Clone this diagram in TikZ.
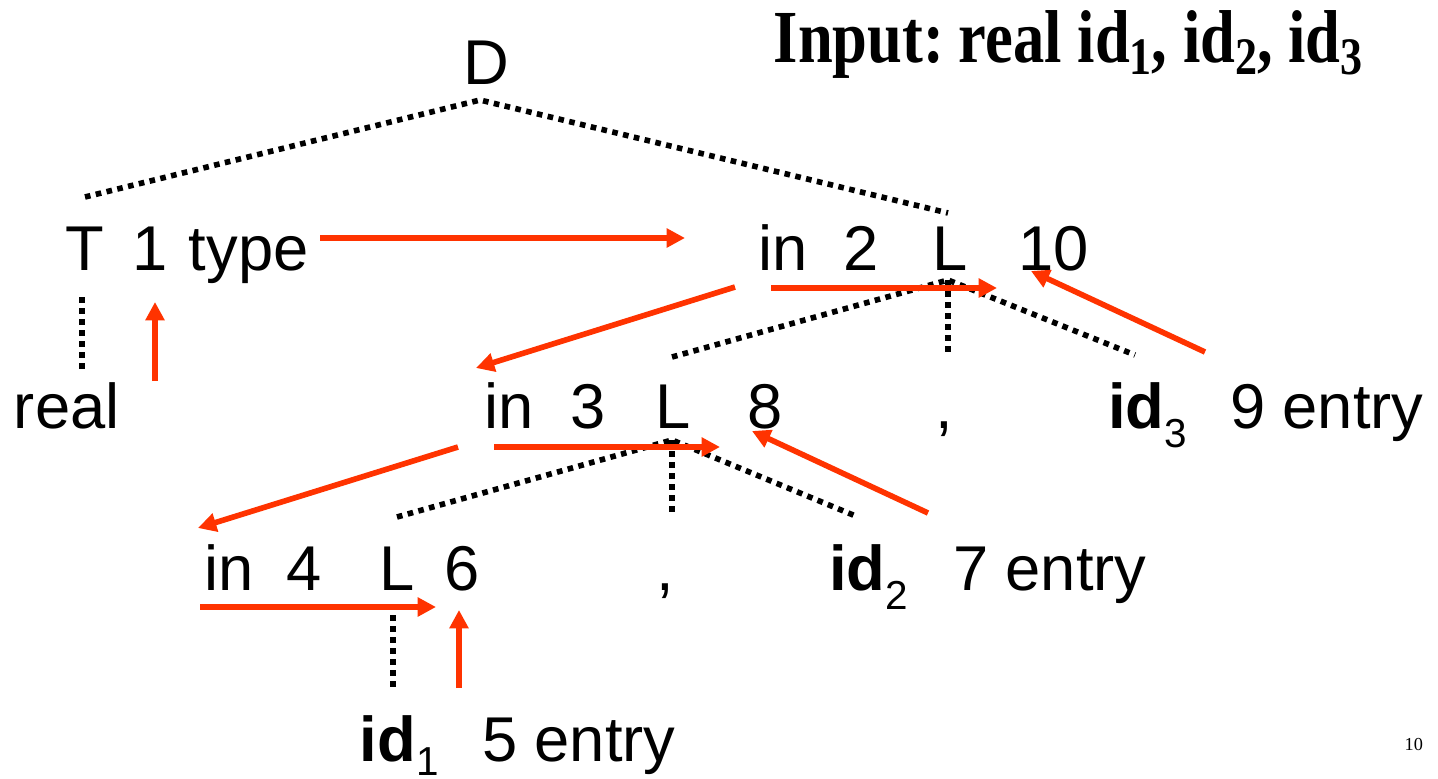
\documentclass[tikz,border=0pt]{standalone}
\usepackage{fontspec}
\setmainfont{Liberation Sans}
\newfontfamily\titlefont{Liberation Serif}
\usepackage{tikz}
\usetikzlibrary{arrows.meta}
\definecolor{flowred}{RGB}{255,51,0}
\newcommand{\sub}[2][-5.5pt]{\raisebox{#1}{\fontsize{11.5}{12}\selectfont #2}}
\newcommand{\tsub}[1]{\raisebox{-3.6pt}{\fontsize{15}{15}\selectfont #1}}

\begin{document}
\begin{tikzpicture}[x=0.01cm,y=-0.01cm,
  lbl/.style={anchor=base west,inner sep=0pt,outer sep=0pt,font=\fontsize{18}{20}\selectfont},
  tree/.style={line width=1.6pt,dash pattern=on 1.6pt off 1.55pt},
  flow/.style={flowred,line width=1.6pt,-{Triangle[length=5.2pt,width=5.2pt]}}]
  \useasboundingbox (0,0) rectangle (1438,778);

  \node[anchor=base west,inner sep=0pt,font=\titlefont\bfseries\fontsize{21.3}{24}\selectfont] (title) at (773,62)
    {\scalebox{0.835}[1]{Input:\hspace{-2pt} real id\tsub{1}, id\tsub{2}, id\tsub{3}}};
  \node[anchor=base west,inner sep=0pt,font=\titlefont\fontsize{5.2}{6}\selectfont] (page) at (1404,750) {10};

  \node[lbl] (D) at (463,84) {D};

  % row 1
  \node[lbl] (T) at (66,270) {T};
  \node[lbl] (one) at (133,270) {1};
  \node[lbl] (type) at (189,270) {type};
  \node[lbl] (in2) at (758,270) {in};
  \node[lbl] (two) at (843,270) {2};
  \node[lbl] (L2) at (932,270) {L};
  \node[lbl] (ten) at (1018,270) {10};

  % row 2
  \node[lbl] (real) at (14,428) {real};
  \node[lbl] (in3) at (484,428) {in};
  \node[lbl] (three) at (570,428) {3};
  \node[lbl] (L3) at (655,428) {L};
  \node[lbl] (eight) at (747,428) {8};
  \node[lbl] (comma3) at (935,428) {,};
  \node[lbl] (id3) at (1108,428) {\textbf{id}\sub{3}};
  \node[lbl] (nine) at (1230,428) {9 entry};

  % row 3
  \node[lbl] (in4) at (204,590) {in};
  \node[lbl] (four) at (287,590) {4};
  \node[lbl] (L4) at (379,590) {L};
  \node[lbl] (six) at (444,590) {6};
  \node[lbl] (comma2) at (656,590) {,};
  \node[lbl] (id2) at (829,590) {\textbf{id}\sub{2}};
  \node[lbl] (seven) at (953,590) {7 entry};

  % row 4
  \node[lbl] (id1) at (360,761) {\textbf{id}\sub[-4pt]{1}};
  \node[lbl] (five) at (482,761) {5 entry};

  % parse tree
  \coordinate (D-j) at (480,100);
  \coordinate (T-j) at (85,197);
  \coordinate (L2-up) at (948,213);
  \coordinate (T-dn) at (82,297);
  \coordinate (real-up) at (82,372);
  \coordinate (L2-j) at (948,280);
  \coordinate (L3-up) at (672,357);
  \coordinate (comma3-up) at (948,356);
  \coordinate (id3-up) at (1135,355);
  \coordinate (L3-j) at (672,440);
  \coordinate (L4-up) at (397,517);
  \coordinate (comma2-up) at (672,517);
  \coordinate (id2-up) at (858,517);
  \coordinate (L4-dn) at (393,615);
  \coordinate (id1-up) at (393,692);

  \draw[tree] (T-j) -- (D-j) -- (L2-up);
  \draw[tree] (T-dn) -- (real-up);
  \draw[tree] (L3-up) -- (L2-j) -- (id3-up);
  \draw[tree] (L2-j) -- (comma3-up);
  \draw[tree] (L4-up) -- (L3-j) -- (id2-up);
  \draw[tree] (L3-j) -- (comma2-up);
  \draw[tree] (L4-dn) -- (id1-up);

  % evaluation order
  \coordinate (real-out) at (155,381);
  \coordinate (one-in) at (155,302);
  \coordinate (type-out) at (320,238);
  \coordinate (in2-in) at (685,238);
  \coordinate (in2-out) at (735,287);
  \coordinate (in3-in) at (476,368);
  \coordinate (in2-pass) at (771,288);
  \coordinate (L2-in) at (997,288);
  \coordinate (id3-out) at (1205,352);
  \coordinate (ten-in) at (1031,271);
  \coordinate (in3-out) at (458,447);
  \coordinate (in4-in) at (198,528);
  \coordinate (in3-pass) at (494,447);
  \coordinate (L3-in) at (720,447);
  \coordinate (id2-out) at (928,513);
  \coordinate (eight-in) at (752,431);
  \coordinate (in4-pass) at (200,607);
  \coordinate (L4-in) at (436,607);
  \coordinate (id1-out) at (459,688);
  \coordinate (six-in) at (459,610);

  \draw[flow] (real-out) -- (one-in);
  \draw[flow] (type-out) -- (in2-in);
  \draw[flow] (in2-out) -- (in3-in);
  \draw[flow] (in2-pass) -- (L2-in);
  \draw[flow] (id3-out) -- (ten-in);
  \draw[flow] (in3-out) -- (in4-in);
  \draw[flow] (in3-pass) -- (L3-in);
  \draw[flow] (id2-out) -- (eight-in);
  \draw[flow] (in4-pass) -- (L4-in);
  \draw[flow] (id1-out) -- (six-in);
\end{tikzpicture}
\end{document}
